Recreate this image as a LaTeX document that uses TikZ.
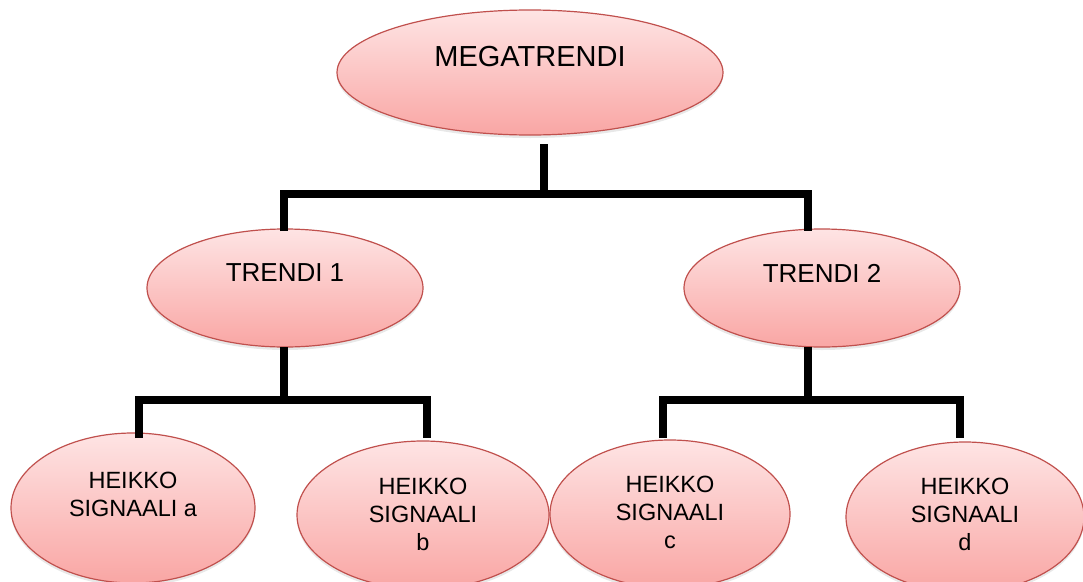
\documentclass[tikz,border=0pt]{standalone}
\usepackage{fontspec}
\setmainfont{Liberation Sans}
\usetikzlibrary{shapes.geometric,shadows}
\definecolor{edgered}{RGB}{192,80,77}
\definecolor{topc}{RGB}{254,228,228}
\definecolor{botc}{RGB}{249,166,164}
\tikzset{
  oval/.style={ellipse, draw=edgered, line width=1.2pt, top color=topc, bottom color=botc,
    inner sep=0pt, drop shadow={opacity=0.18, shadow xshift=0pt, shadow yshift=-3pt}},
  conn/.style={line width=8pt, black},
  lbl/.style={align=center, inner sep=0pt, text=black},
  bigtxt/.style={lbl, font=\fontsize{29}{34}\selectfont},
  midtxt/.style={lbl, font=\fontsize{26}{30}\selectfont},
  smalltxt/.style={lbl, font=\fontsize{23.5}{28}\selectfont}
}
\begin{document}
\begin{tikzpicture}[x=1pt,y=-1pt]
\useasboundingbox (0,0) rectangle (1083,581);
% ellipses
\node[oval, minimum width=386pt, minimum height=125pt] (mega) at (530,72.5) {};
\node[oval, minimum width=276pt, minimum height=118pt] (t1) at (285,288) {};
\node[oval, minimum width=276pt, minimum height=118pt] (t2) at (822,288) {};
\node[oval, minimum width=244pt, minimum height=150pt] (sa) at (133,508) {};
\node[oval, minimum width=252pt, minimum height=148pt] (sb) at (423,515) {};
\node[oval, minimum width=240pt, minimum height=148pt] (sc) at (670,514) {};
\node[oval, minimum width=238pt, minimum height=150pt] (sd) at (965,517) {};
% texts
\node[bigtxt] (megatxt) at (530,57) {MEGATRENDI};
\node[midtxt] (t1txt) at (285,273) {TRENDI 1};
\node[midtxt] (t2txt) at (822,273) {TRENDI 2};
\node[smalltxt] (satxt) at (133,494.5) {HEIKKO\\SIGNAALI a};
\node[smalltxt] (sbtxt) at (423,514) {HEIKKO\\SIGNAALI\\b};
\node[smalltxt] (sctxt) at (670,512.5) {HEIKKO\\SIGNAALI\\c};
\node[smalltxt] (sdtxt) at (965,514) {HEIKKO\\SIGNAALI\\d};
% connector points
\coordinate (m0) at (544,144);
\coordinate (b0) at (544,194);
\coordinate (t1in) at (284,231);
\coordinate (t2in) at (808,231);
\coordinate (t1out) at (284,347);
\coordinate (b1) at (284,400);
\coordinate (ain) at (139,438);
\coordinate (bin) at (427,438);
\coordinate (t2out) at (808,347);
\coordinate (b2) at (808,400);
\coordinate (cin) at (663,438);
\coordinate (din) at (960,438);
% connectors
\draw[conn] (m0) -- (b0);
\draw[conn] (t1in) |- (b0) -| (t2in);
\draw[conn] (t1out) -- (b1);
\draw[conn] (ain) |- (b1) -| (bin);
\draw[conn] (t2out) -- (b2);
\draw[conn] (cin) |- (b2) -| (din);
\end{tikzpicture}
\end{document}
